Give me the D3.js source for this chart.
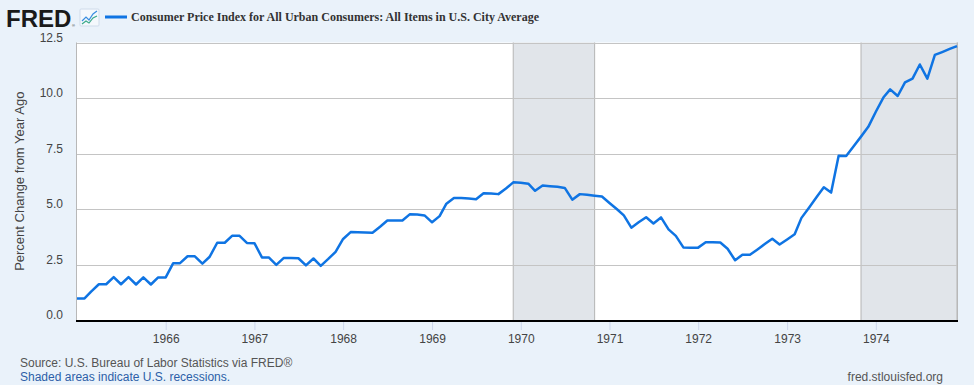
<!DOCTYPE html>
<html>
<head>
<meta charset="utf-8">
<script src="https://cdn.jsdelivr.net/npm/d3@7"></script>
<style>
  html, body { margin: 0; padding: 0; background: #eaf2fa; }
  svg { display: block; font-family: "Liberation Sans", Arial, sans-serif; }
</style>
</head>
<body>
<div id="chart"></div>
<script>
// CPI, percent change from year ago, monthly from Jan 1965
const firstMonth = '1965-01-01';
const pctChange = [
  0.97, 0.97, 1.29, 1.61, 1.61, 1.93, 1.61, 1.93, 1.60, 1.92, 1.60, 1.92, // 1965
  1.92, 2.56, 2.56, 2.87, 2.87, 2.54, 2.85, 3.48, 3.48, 3.79, 3.79, 3.47, // 1966
  3.46, 2.82, 2.82, 2.48, 2.79, 2.79, 2.78, 2.46, 2.77, 2.44, 2.75, 3.07, // 1967
  3.65, 3.96, 3.95, 3.94, 3.93, 4.20, 4.48, 4.48, 4.48, 4.76, 4.75, 4.71, // 1968
  4.40, 4.68, 5.24, 5.50, 5.49, 5.47, 5.44, 5.71, 5.70, 5.67, 5.92, 6.20, // 1969
  6.18, 6.14, 5.82, 6.06, 6.03, 6.00, 5.95, 5.42, 5.67, 5.64, 5.60, 5.56, // 1970
  5.27, 4.99, 4.71, 4.16, 4.40, 4.63, 4.35, 4.62, 4.08, 3.79, 3.27, 3.26, // 1971
  3.26, 3.50, 3.50, 3.49, 3.21, 2.69, 2.94, 2.94, 3.18, 3.42, 3.66, 3.40, // 1972
  3.63, 3.86, 4.60, 5.06, 5.52, 5.98, 5.74, 7.40, 7.39, 7.82, 8.26, 8.70, // 1973
  9.38, 10.02, 10.39, 10.09, 10.70, 10.87, 11.51, 10.87, 11.94, 12.07, 12.21, 12.34 // 1974
];

const recessions = [
  ['1969-12-01', '1970-11-01'],
  ['1973-11-01', '1975-03-01']
];

const yTicks = [0, 2.5, 5, 7.5, 10, 12.5];
const yearTicks = ['1966', '1967', '1968', '1969', '1970', '1971', '1972', '1973', '1974'];

const seriesTitle = 'Consumer Price Index for All Urban Consumers: All Items in U.S. City Average';
const yTitle = 'Percent Change from Year Ago';
const sourceText = 'Source: U.S. Bureau of Labor Statistics via FRED\u00AE';
const shadeText = 'Shaded areas indicate U.S. recessions.';
const siteText = 'fred.stlouisfed.org';

const width = 974, height = 385;
const plot = { left: 77, right: 957, top: 42.5, bottom: 320 };

const parse = d3.timeParse('%Y-%m-%d');
const start = parse(firstMonth);
const data = pctChange.map((v, i) => ({ date: d3.timeMonth.offset(start, i), value: v }));

const svg = d3.select('#chart').append('svg')
  .attr('width', width)
  .attr('height', height);

svg.append('rect').attr('width', width).attr('height', height).attr('fill', '#eaf2fa');

const x = d3.scaleTime()
  .domain([data[0].date, data[data.length - 1].date])
  .range([plot.left, plot.right]);

const y = d3.scaleLinear()
  .domain([0, 12.5])
  .range([plot.bottom, plot.top]);

// plot background
svg.append('rect')
  .attr('x', plot.left).attr('y', plot.top)
  .attr('width', plot.right - plot.left).attr('height', plot.bottom - plot.top)
  .attr('fill', '#fff');

// recession shading
recessions.forEach(([a, b]) => {
  const x0 = x(parse(a));
  const x1 = Math.min(x(parse(b)), plot.right);
  svg.append('rect')
    .attr('x', x0).attr('y', plot.top)
    .attr('width', x1 - x0).attr('height', plot.bottom - plot.top)
    .attr('fill', '#e1e5ea');
  [x0, x1].forEach(xx => {
    svg.append('line')
      .attr('x1', xx).attr('x2', xx)
      .attr('y1', plot.top).attr('y2', plot.bottom)
      .attr('stroke', '#b4b4b4').attr('stroke-width', 1);
  });
});

// horizontal gridlines
svg.append('g').selectAll('line')
  .data(yTicks.filter(d => d > 0))
  .join('line')
  .attr('x1', plot.left).attr('x2', plot.right)
  .attr('y1', d => Math.round(y(d)) + 0.5).attr('y2', d => Math.round(y(d)) + 0.5)
  .attr('stroke', '#c4c4c4').attr('stroke-width', 1);

// left / right border
svg.append('line')
  .attr('x1', plot.left - 0.5).attr('x2', plot.left - 0.5)
  .attr('y1', plot.top).attr('y2', plot.bottom)
  .attr('stroke', '#b8b8b8');
svg.append('line')
  .attr('x1', plot.right + 0.5).attr('x2', plot.right + 0.5)
  .attr('y1', plot.top).attr('y2', plot.bottom)
  .attr('stroke', '#b8b8b8');

// y labels
svg.append('g').selectAll('text')
  .data(yTicks)
  .join('text')
  .attr('x', 63)
  .attr('y', d => y(d) - 1)
  .attr('text-anchor', 'end')
  .attr('font-size', 12)
  .attr('fill', '#444')
  .text(d => d3.format('.1f')(d));

// y title
svg.append('text')
  .attr('transform', `translate(24,${(plot.top + plot.bottom) / 2}) rotate(-90)`)
  .attr('text-anchor', 'middle')
  .attr('font-size', 13)
  .attr('fill', '#444')
  .text(yTitle);

// x axis
const xAxis = d3.axisBottom(x)
  .tickValues(yearTicks.map(t => parse(t + '-01-01')))
  .tickFormat(d3.timeFormat('%Y'))
  .tickSize(10)
  .tickPadding(4);

const gx = svg.append('g')
  .attr('transform', `translate(0,${plot.bottom})`)
  .call(xAxis);
gx.select('.domain').remove();
gx.selectAll('.tick line').attr('stroke', '#ccd6eb');
gx.selectAll('.tick text')
  .attr('font-size', 12)
  .attr('font-family', '"Liberation Sans", Arial, sans-serif')
  .attr('fill', '#444');

// data line
const line = d3.line()
  .x(d => x(d.date))
  .y(d => y(d.value));

svg.append('path')
  .datum(data)
  .attr('d', line)
  .attr('fill', 'none')
  .attr('stroke', '#0f74e3')
  .attr('stroke-width', 2.5)
  .attr('stroke-linejoin', 'round');

// bottom axis line
svg.append('line')
  .attr('x1', plot.left - 1).attr('x2', plot.right + 1)
  .attr('y1', plot.bottom + 1).attr('y2', plot.bottom + 1)
  .attr('stroke', '#000').attr('stroke-width', 2);

// FRED logo
svg.append('text')
  .attr('x', 6).attr('y', 27)
  .attr('font-size', 24)
  .attr('font-weight', 'bold')
  .attr('fill', '#1a1a1a')
  .text('FRED');
svg.append('text')
  .attr('x', 72).attr('y', 27)
  .attr('font-size', 4)
  .attr('fill', '#1a1a1a')
  .text('\u00AE');
const icon = svg.append('g').attr('transform', 'translate(80,9)');
icon.append('rect')
  .attr('width', 19).attr('height', 17).attr('rx', 1)
  .attr('fill', '#f4f8fc').attr('stroke', '#d0dceb');
icon.append('polyline')
  .attr('points', '2,12 6,8 9,11 13,5 17,2')
  .attr('fill', 'none').attr('stroke', '#3a8ee0').attr('stroke-width', 1.2);
icon.append('polyline')
  .attr('points', '2,15 6,12 9,14 13,9 17,7')
  .attr('fill', 'none').attr('stroke', '#3aa98a').attr('stroke-width', 1.2);

// legend
svg.append('line')
  .attr('x1', 105).attr('x2', 127)
  .attr('y1', 17).attr('y2', 17)
  .attr('stroke', '#0f74e3').attr('stroke-width', 3);
svg.append('text')
  .attr('x', 131).attr('y', 21)
  .attr('font-family', '"Liberation Serif", "Times New Roman", serif')
  .attr('font-weight', 'bold')
  .attr('font-size', 12)
  .attr('fill', '#333')
  .text(seriesTitle);

// footer
svg.append('text')
  .attr('x', 20).attr('y', 367)
  .attr('font-size', 12)
  .attr('fill', '#555')
  .text(sourceText);
svg.append('text')
  .attr('x', 20).attr('y', 381)
  .attr('font-size', 12)
  .attr('fill', '#2d5fa8')
  .text(shadeText);
svg.append('text')
  .attr('x', 943).attr('y', 381)
  .attr('text-anchor', 'end')
  .attr('font-size', 12)
  .attr('fill', '#555')
  .text(siteText);
</script>
</body>
</html>
